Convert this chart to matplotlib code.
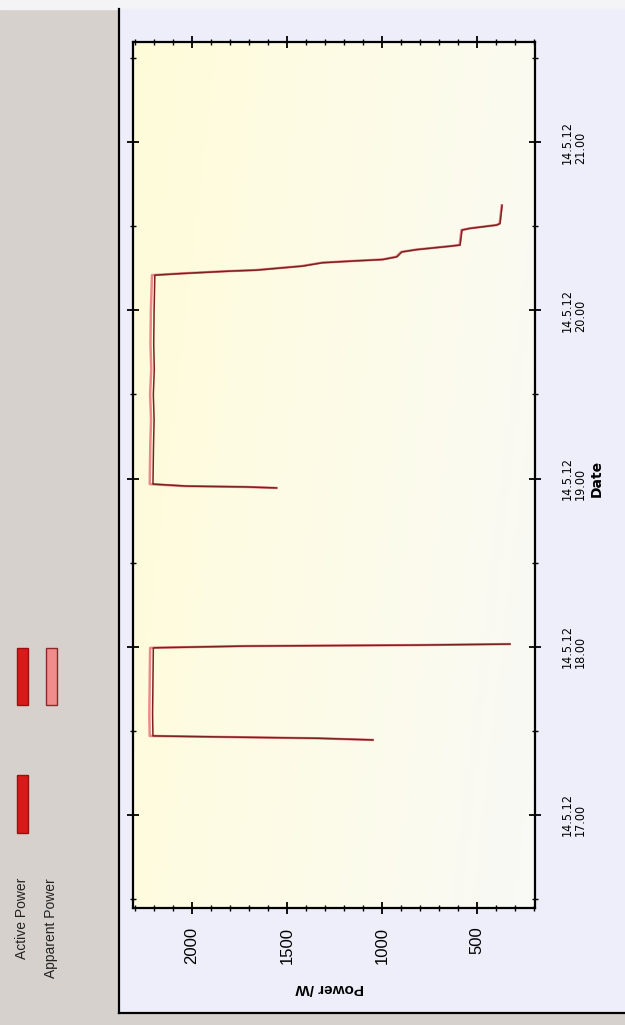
import numpy as np
import matplotlib
matplotlib.use("Agg")
import matplotlib.pyplot as plt
from matplotlib.patches import Rectangle

# data: time in decimal hours on 14.5.12, power in W (chart is shown turned on its side)
t_run1 = [17.446, 17.456, 17.465, 17.470, 17.60, 17.80, 17.993, 17.994, 18.004, 18.010, 18.016]
active_run1 = [1047, 1337, 1916, 2205, 2207, 2205, 2203, 2190, 1721, 800, 326]
apparent_run1 = [1050, 1345, 1930, 2222, 2224, 2222, 2220, 2205, 1735, 810, 330]

t_run2 = [18.944, 18.950, 18.955, 18.967, 19.20, 19.35, 19.50, 19.65, 19.80, 20.00, 20.209,
          20.219, 20.233, 20.239, 20.251, 20.263, 20.283, 20.293, 20.302, 20.318, 20.347,
          20.361, 20.381, 20.388, 20.477, 20.487, 20.507, 20.516, 20.624]
active_run2 = [1553, 1711, 2026, 2205, 2202, 2199, 2203, 2198, 2201, 2199, 2195,
               2047, 1800, 1658, 1537, 1416, 1311, 1153, 995, 921, 895,
               816, 642, 589, 579, 537, 395, 379, 368]
apparent_run2 = [1560, 1720, 2040, 2222, 2219, 2215, 2220, 2214, 2218, 2216, 2210,
                 2060, 1810, 1668, 1545, 1424, 1318, 1160, 1000, 926, 900,
                 820, 646, 592, 582, 540, 398, 381, 370]

hour_ticks = [17, 18, 19, 20, 21]
hour_labels = ["14.5.12\n17.00", "14.5.12\n18.00", "14.5.12\n19.00", "14.5.12\n20.00", "14.5.12\n21.00"]
power_ticks = [500, 1000, 1500, 2000]
series_names = ["Active Power", "Apparent Power"]

narrow = ["Liberation Sans Narrow", "DejaVu Sans"]
sans = ["Liberation Sans", "DejaVu Sans"]

fig = plt.figure(figsize=(6.25, 10.25), dpi=100)
fig.patch.set_facecolor("#d6d1cd")

# window background pieces (pixel based)
W, H = 625.0, 1025.0
bg = fig.add_axes([0, 0, 1, 1], zorder=-5)
bg.set_xlim(0, W); bg.set_ylim(H, 0); bg.axis("off")
bg.add_patch(Rectangle((0, 0), W, 9, color="#f4f3f6"))
bg.add_patch(Rectangle((119, 9), W - 119, 1004, color="#eeeefa"))
bg.plot([119, 119], [9, 1013], color="black", lw=1.6)
bg.plot([119, W], [1013, 1013], color="black", lw=1.6)

ax = fig.add_axes([133 / W, 1 - 908 / H, (535 - 133) / W, (908 - 42) / H])
grad = np.linspace(0, 1, 200)
gx, gy = np.meshgrid(grad, grad)
shade = 0.8 * gx + 0.2 * gy
ax.imshow(shade, cmap=matplotlib.colors.LinearSegmentedColormap.from_list(
    "bgy", ["#fffbd9", "#fdfce8", "#f9f9f6"]), extent=[0, 1, 0, 1], transform=ax.transAxes,
    aspect="auto", zorder=0, origin="upper")

ax.plot(apparent_run1, t_run1, color="#ec8a8a", lw=1.8, zorder=2)
ax.plot(apparent_run2, t_run2, color="#ec8a8a", lw=1.8, zorder=2)
ax.plot(active_run1, t_run1, color="#7a2222", lw=1.1, zorder=3)
ax.plot(active_run2, t_run2, color="#7a2222", lw=1.1, zorder=3)

ax.set_xlim(2310, 195)
ax.set_ylim(16.447, 21.595)
ax.set_xticks(power_ticks)
ax.set_xticks(np.arange(200, 2400, 100), minor=True)
ax.set_yticks(hour_ticks)
ax.set_yticks([16.5, 17.5, 18.5, 19.5, 20.5, 21.5], minor=True)
ax.set_xticklabels([str(v) for v in power_ticks], rotation=90, fontsize=12, family=sans)
ax.set_yticklabels(hour_labels, rotation=90, fontsize=9, family=narrow,
                   va="center", linespacing=1.05, fontstretch="condensed")
ax.tick_params(axis="both", which="both", direction="inout", color="black",
               top=True, bottom=True, left=True, right=True,
               labelleft=False, labelright=True)
ax.tick_params(axis="both", which="major", length=9, width=1.3)
ax.tick_params(axis="both", which="minor", length=5, width=1.0)
ax.tick_params(axis="x", pad=9)
ax.tick_params(axis="y", pad=14)
for s in ax.spines.values():
    s.set_linewidth(1.6)

fig.text(330 / W, 1 - 988 / H, "Power /W", rotation=180, ha="center", va="center",
         fontsize=11, fontweight="bold", family=sans)
fig.text(597 / W, 1 - 478 / H, "Date", rotation=90, ha="center", va="center",
         fontsize=10, fontweight="bold", family=narrow)

# legend, drawn by hand in the side strip
bg.add_patch(Rectangle((17, 775), 11, 58, facecolor="#d81a1a", edgecolor="#9a1010", lw=1))
bg.add_patch(Rectangle((17, 648), 11, 57, facecolor="#d81a1a", edgecolor="#9a1010", lw=1))
bg.add_patch(Rectangle((46, 648), 11, 57, facecolor="#f08c8c", edgecolor="#8a2a2a", lw=1))
fig.text(22 / W, 1 - 878 / H, series_names[0], rotation=90, ha="center", va="top",
         fontsize=10, family=sans, color="#222222")
fig.text(51 / W, 1 - 878 / H, series_names[1], rotation=90, ha="center", va="top",
         fontsize=10, family=sans, color="#222222")

fig.savefig("out.png", dpi=100, facecolor=fig.get_facecolor())
